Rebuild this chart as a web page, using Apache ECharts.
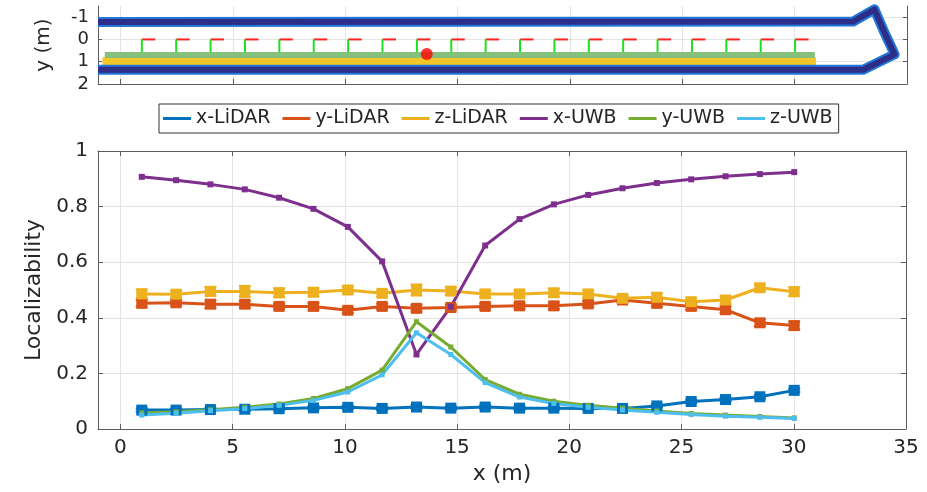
<!DOCTYPE html>
<html>
<head>
<meta charset="utf-8">
<title>Localizability</title>
<script src="https://cdn.jsdelivr.net/npm/echarts@6/dist/echarts.min.js"></script>
<style>
html, body { margin: 0; padding: 0; background: #fff; }
#main { width: 927px; height: 492px; }
</style>
</head>
<body>
<div id="main"></div>
<script>
// sample positions along the corridor (m)
var xPos = [0.95, 2.48, 4.01, 5.54, 7.07, 8.6, 10.13, 11.66, 13.19, 14.72,
            16.25, 17.78, 19.31, 20.84, 22.37, 23.9, 25.43, 26.96, 28.49, 30.02];

var xLidar = [0.068, 0.068, 0.07, 0.071, 0.073, 0.076, 0.078, 0.074, 0.079, 0.075,
              0.079, 0.075, 0.075, 0.074, 0.074, 0.083, 0.099, 0.106, 0.116, 0.139];
var yLidar = [0.452, 0.454, 0.449, 0.449, 0.441, 0.441, 0.427, 0.441, 0.434, 0.437,
              0.441, 0.443, 0.443, 0.45, 0.464, 0.452, 0.441, 0.429, 0.382, 0.372];
var zLidar = [0.486, 0.485, 0.495, 0.495, 0.49, 0.492, 0.5, 0.488, 0.5, 0.496,
              0.486, 0.486, 0.49, 0.486, 0.47, 0.474, 0.458, 0.464, 0.508, 0.494];
var xUwb = [0.907, 0.895, 0.88, 0.862, 0.832, 0.792, 0.727, 0.603, 0.268, 0.44,
            0.66, 0.755, 0.808, 0.842, 0.866, 0.885, 0.898, 0.909, 0.917, 0.924];
var yUwb = [0.058, 0.062, 0.069, 0.078, 0.09, 0.11, 0.145, 0.212, 0.386, 0.295,
            0.178, 0.125, 0.1, 0.085, 0.075, 0.065, 0.056, 0.05, 0.045, 0.04];
var zUwb = [0.05, 0.057, 0.066, 0.073, 0.085, 0.103, 0.133, 0.195, 0.346, 0.268,
            0.167, 0.115, 0.092, 0.078, 0.068, 0.06, 0.052, 0.046, 0.042, 0.038];

// error bar half-lengths (LiDAR)
var xLidarErr = [0.006, 0.006, 0.006, 0.006, 0.006, 0.006, 0.006, 0.006, 0.006, 0.006,
                 0.006, 0.006, 0.006, 0.006, 0.006, 0.006, 0.006, 0.006, 0.006, 0.006];
var yLidarErr = [0.012, 0.01, 0.014, 0.012, 0.01, 0.012, 0.01, 0.01, 0.012, 0.01,
                 0.01, 0.01, 0.012, 0.01, 0.01, 0.012, 0.012, 0.012, 0.012, 0.014];
var zLidarErr = [0.016, 0.012, 0.016, 0.02, 0.016, 0.014, 0.012, 0.012, 0.02, 0.014,
                 0.012, 0.012, 0.014, 0.012, 0.012, 0.014, 0.012, 0.014, 0.012, 0.016];

// top view: robot trajectory, walls, robot position
var trackX = [-1, 32.6, 33.55, 34.0, 34.45, 33.05, -1];
var trackY = [-0.78, -0.8, -1.35, -0.3, 0.67, 1.36, 1.36];
var wallX = [-0.7, 30.9];
var wallY = [0.7, 0.7];
var floorX = [-0.8, 30.95];
var floorY = [1.05, 1.05];
var robotPos = [13.63, 0.65];

var xTicks = [0, 5, 10, 15, 20, 25, 30, 35];
var mapYTicks = [-1, 0, 1, 2];

var names = ['x-LiDAR', 'y-LiDAR', 'z-LiDAR', 'x-UWB', 'y-UWB', 'z-UWB'];
var colors = ['#0072BD', '#D95319', '#EDB120', '#7E2F8E', '#77AC30', '#4DBEEE'];

var FONT = 'DejaVu Sans';
var AXIS_COLOR = '#5c5c5c';
var GRID_COLOR = '#e3e3e3';

function zip(xs, ys) {
    var out = [];
    for (var i = 0; i < xs.length; i++) out.push([xs[i], ys[i]]);
    return out;
}

function errorBars(vals, errs, color) {
    return {
        type: 'custom',
        name: 'err',
        xAxisIndex: 2,
        yAxisIndex: 2,
        z: 3,
        silent: true,
        data: xPos.map(function (x, i) { return [x, vals[i] - errs[i], vals[i] + errs[i]]; }),
        renderItem: function (params, api) {
            var lo = api.coord([api.value(0), api.value(1)]);
            var hi = api.coord([api.value(0), api.value(2)]);
            var cap = 6;
            var st = { stroke: color, lineWidth: 2 };
            return {
                type: 'group',
                children: [
                    { type: 'line', shape: { x1: lo[0], y1: lo[1], x2: hi[0], y2: hi[1] }, style: st },
                    { type: 'line', shape: { x1: lo[0] - cap, y1: lo[1], x2: lo[0] + cap, y2: lo[1] }, style: st },
                    { type: 'line', shape: { x1: hi[0] - cap, y1: hi[1], x2: hi[0] + cap, y2: hi[1] }, style: st }
                ]
            };
        }
    };
}

function locLine(idx, vals, size) {
    return {
        name: names[idx],
        type: 'line',
        xAxisIndex: 2,
        yAxisIndex: 2,
        data: zip(xPos, vals),
        symbol: 'rect',
        symbolSize: size,
        showSymbol: true,
        z: 4,
        color: colors[idx],
        lineStyle: { width: 3, color: colors[idx] },
        itemStyle: { color: colors[idx] }
    };
}

function boxAxis(type, gridIdx, pos, extra) {
    var a = {
        type: 'value',
        gridIndex: gridIdx,
        position: pos,
        axisLine: { show: true, onZero: false, lineStyle: { color: AXIS_COLOR, width: 1 } },
        axisTick: { show: true, inside: true, length: 5, lineStyle: { color: AXIS_COLOR } },
        axisLabel: { show: false },
        splitLine: { show: false }
    };
    return Object.assign(a, extra);
}

var chart = echarts.init(document.getElementById('main'));

var option = {
    animation: false,
    backgroundColor: '#fff',
    textStyle: { fontFamily: FONT },
    legend: {
        data: names,
        left: 159,
        top: 104,
        icon: 'rect',
        itemWidth: 28,
        itemHeight: 3,
        itemGap: 12,
        padding: [5, 6, 5, 4],
        borderColor: '#333',
        borderWidth: 1,
        borderRadius: 0,
        textStyle: { fontFamily: FONT, fontSize: 19, color: '#262626' }
    },
    grid: [
        { left: 98, right: 20, top: 6, height: 78 },
        { left: 98, right: 21, top: 151, height: 278 }
    ],
    xAxis: [
        boxAxis('value', 0, 'bottom', {
            min: -1, max: 35,
            axisTick: { show: true, inside: true, length: 5, customValues: xTicks, lineStyle: { color: AXIS_COLOR } },
            splitLine: { show: true, lineStyle: { color: GRID_COLOR, width: 1 } }
        }),
        boxAxis('value', 0, 'top', {
            min: -1, max: 35,
            axisLine: { show: false },
            axisTick: { show: false }
        }),
        boxAxis('value', 1, 'bottom', {
            min: -1, max: 35,
            name: 'x (m)',
            nameLocation: 'middle',
            nameGap: 34,
            nameTextStyle: { fontFamily: FONT, fontSize: 22, color: '#262626' },
            axisTick: { show: true, inside: true, length: 5, customValues: xTicks, lineStyle: { color: AXIS_COLOR } },
            axisLabel: { show: true, customValues: xTicks, margin: 9, fontFamily: FONT, fontSize: 20, color: '#262626' },
            splitLine: { show: true, lineStyle: { color: GRID_COLOR, width: 1 } }
        }),
        boxAxis('value', 1, 'top', {
            min: -1, max: 35,
            axisTick: { show: true, inside: true, length: 5, customValues: xTicks, lineStyle: { color: AXIS_COLOR } }
        })
    ],
    yAxis: [
        boxAxis('value', 0, 'left', {
            min: -1.5, max: 2, inverse: true,
            name: 'y (m)',
            nameLocation: 'middle',
            nameGap: 44,
            nameTextStyle: { fontFamily: FONT, fontSize: 20, color: '#262626' },
            axisTick: { show: true, inside: true, length: 4, customValues: mapYTicks, lineStyle: { color: AXIS_COLOR } },
            axisLabel: { show: true, customValues: mapYTicks, margin: 9, fontFamily: FONT, fontSize: 18, color: '#262626' },
            splitLine: { show: true, lineStyle: { color: GRID_COLOR, width: 1 } }
        }),
        boxAxis('value', 0, 'right', {
            min: -1.5, max: 2, inverse: true,
            axisTick: { show: true, inside: true, length: 4, customValues: mapYTicks, lineStyle: { color: AXIS_COLOR } }
        }),
        boxAxis('value', 1, 'left', {
            min: 0, max: 1, interval: 0.2,
            name: 'Localizability',
            nameLocation: 'middle',
            nameGap: 47,
            nameTextStyle: { fontFamily: FONT, fontSize: 22, color: '#262626' },
            axisLabel: { show: true, margin: 10, fontFamily: FONT, fontSize: 20, color: '#262626' },
            splitLine: { show: true, lineStyle: { color: GRID_COLOR, width: 1 } }
        }),
        boxAxis('value', 1, 'right', {
            min: 0, max: 1, interval: 0.2
        })
    ],
    series: [
        // top view
        {
            type: 'line', xAxisIndex: 0, yAxisIndex: 0, silent: true, showSymbol: false,
            data: zip(floorX, floorY),
            lineStyle: { width: 11, color: '#f4c62a', cap: 'butt' }, z: 1
        },
        {
            type: 'line', xAxisIndex: 0, yAxisIndex: 0, silent: true, showSymbol: false,
            data: zip(wallX, wallY),
            lineStyle: { width: 6, color: '#86c07f', cap: 'butt' }, z: 2
        },
        {
            type: 'line', xAxisIndex: 0, yAxisIndex: 0, silent: true, showSymbol: false,
            data: zip(trackX, trackY),
            lineStyle: { width: 10, color: '#2377d8', join: 'round' }, z: 3
        },
        {
            type: 'line', xAxisIndex: 0, yAxisIndex: 0, silent: true, showSymbol: false,
            data: zip(trackX, trackY),
            lineStyle: { width: 6, color: '#2c2e88', join: 'round' }, z: 4
        },
        {
            type: 'custom', xAxisIndex: 0, yAxisIndex: 0, silent: true, z: 5,
            data: xPos.map(function (x) { return [x, 0]; }),
            renderItem: function (params, api) {
                var base = api.coord([api.value(0), 0]);
                var right = api.coord([api.value(0) + 0.6, 0]);
                var down = api.coord([api.value(0), 0.57]);
                return {
                    type: 'group',
                    children: [
                        { type: 'line', shape: { x1: base[0], y1: base[1], x2: right[0], y2: right[1] }, style: { stroke: '#ff2222', lineWidth: 2 } },
                        { type: 'line', shape: { x1: base[0], y1: base[1], x2: down[0], y2: down[1] }, style: { stroke: '#1ee01e', lineWidth: 2 } }
                    ]
                };
            }
        },
        {
            type: 'scatter', xAxisIndex: 0, yAxisIndex: 0, silent: true, z: 6,
            data: [robotPos], symbolSize: 12, itemStyle: { color: '#ff0000' }
        },
        // localizability
        locLine(0, xLidar, 11),
        locLine(1, yLidar, 11),
        locLine(2, zLidar, 11),
        locLine(3, xUwb, 6),
        locLine(4, yUwb, 5),
        locLine(5, zUwb, 5),
        errorBars(xLidar, xLidarErr, colors[0]),
        errorBars(yLidar, yLidarErr, colors[1]),
        errorBars(zLidar, zLidarErr, colors[2])
    ]
};

chart.setOption(option);
window.addEventListener('resize', function () {
    chart.resize();
});
</script>
</body>
</html>
